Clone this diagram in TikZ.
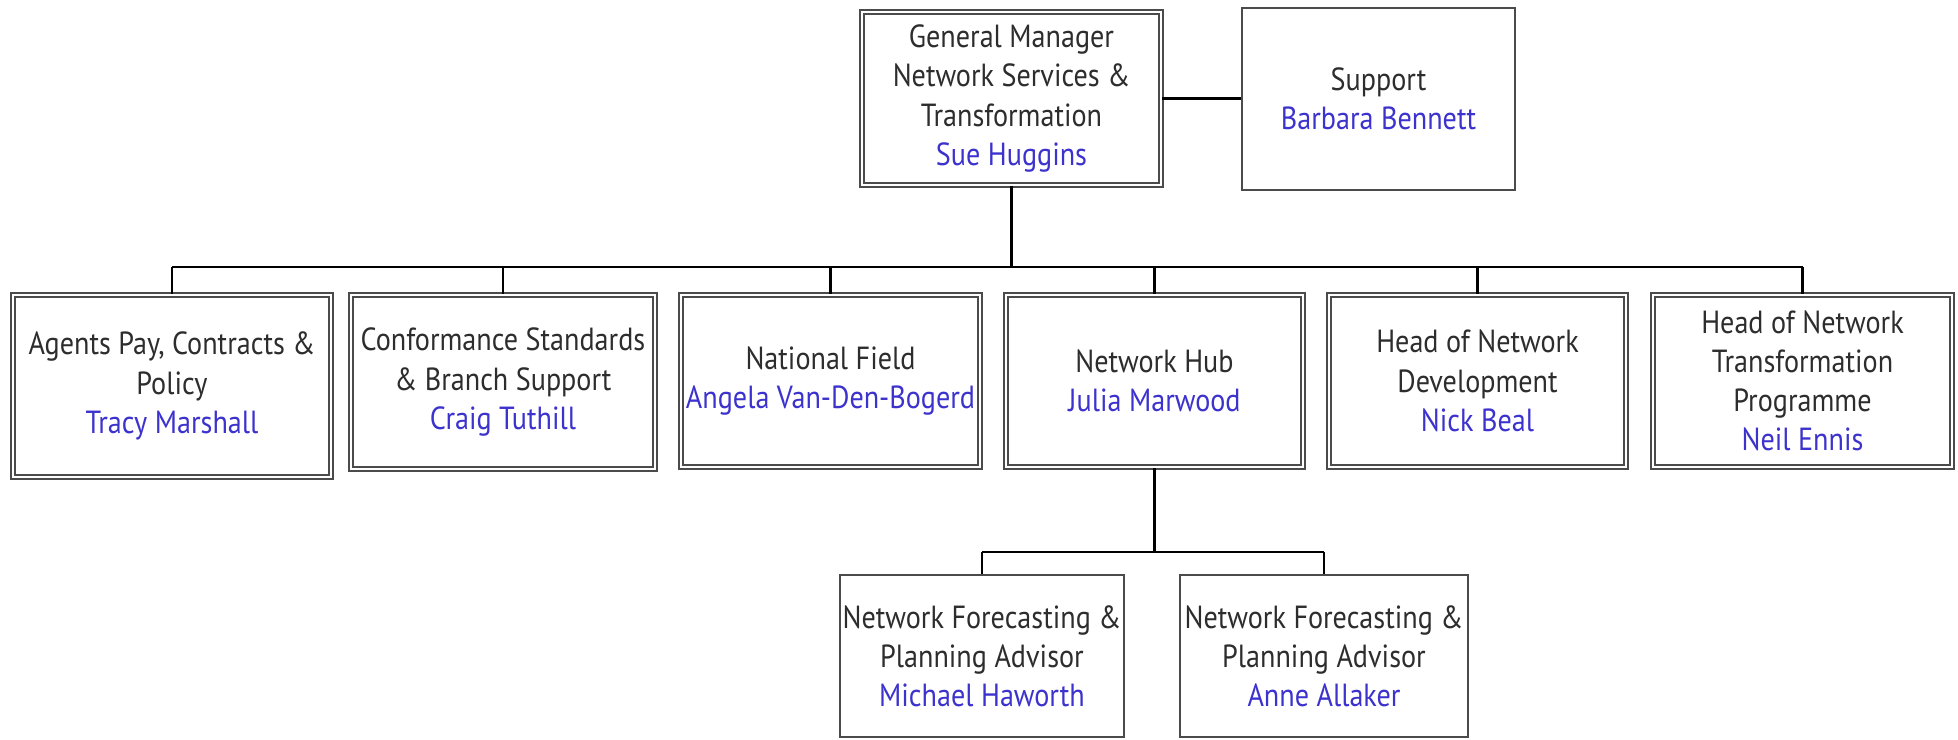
\documentclass[tikz,border=0pt]{standalone}
\usepackage{fontspec}
\setmainfont{PT Sans}[FakeStretch=0.88]
\definecolor{txt}{RGB}{45,45,45}
\definecolor{nm}{RGB}{60,50,205}
\definecolor{frame}{RGB}{75,75,75}
\begin{document}
\begin{tikzpicture}[x=0.5pt,y=-0.5pt,
  every node/.style={font=\fontsize{16}{19.6}\selectfont, text=txt, align=center, inner sep=0pt},
  dbox/.style={draw=frame, line width=0.9pt, double=white, double distance=1.4pt, fill=white},
  sbox/.style={draw=frame, line width=0.8pt, fill=white},
  conn/.style={draw=black, line width=1.4pt}]
\useasboundingbox (0,0) rectangle (1958,739);
\fill[white] (0,0) rectangle (1958,739);
\newcommand{\nmtxt}[1]{\textcolor{nm}{#1}}

\node[dbox, minimum width=149.5pt, minimum height=86.5pt] (gm) at (1011.5,98.5)
  {General Manager\\Network Services \&\\Transformation\\\nmtxt{Sue Huggins}};
\node[sbox, minimum width=136.5pt, minimum height=91pt] (sup) at (1378.5,99)
  {Support\\\nmtxt{Barbara Bennett}};

\node[dbox, minimum width=159pt, minimum height=91pt] (b1) at (172,386)
  {Agents Pay, Contracts \&\\Policy\\\nmtxt{Tracy Marshall}};
\node[dbox, minimum width=152pt, minimum height=87pt] (b2) at (503,382)
  {Conformance Standards\\\& Branch Support\\\nmtxt{Craig Tuthill}};
\node[dbox, minimum width=149.5pt, minimum height=86pt] (b3) at (830.5,381)
  {National Field\\\nmtxt{Angela Van-Den-Bogerd}};
\node[dbox, minimum width=148.5pt, minimum height=86pt] (b4) at (1154.5,381)
  {Network Hub\\\nmtxt{Julia Marwood}};
\node[dbox, minimum width=148.5pt, minimum height=86pt] (b5) at (1477.5,381)
  {Head of Network\\Development\\\nmtxt{Nick Beal}};
\node[dbox, minimum width=149.5pt, minimum height=86pt] (b6) at (1802.5,381)
  {Head of Network\\Transformation\\Programme\\\nmtxt{Neil Ennis}};

\node[sbox, minimum width=142pt, minimum height=81pt] (c1) at (982,656)
  {Network Forecasting \&\\Planning Advisor\\\nmtxt{Michael Haworth}};
\node[sbox, minimum width=144pt, minimum height=81pt] (c2) at (1324,656)
  {Network Forecasting \&\\Planning Advisor\\\nmtxt{Anne Allaker}};

\coordinate (bus) at (0,267);
\coordinate (cbus) at (0,552);

\draw[conn] (gm.east) -- (gm.east -| sup.west);
\draw[conn] (gm.south) -- (gm.south |- bus);
\draw[conn] (b1.north |- bus) -- (b6.north |- bus);
\foreach \b in {b1,b2,b3,b4,b5,b6}
  \draw[conn] (\b.north |- bus) -- (\b.north);
\draw[conn] (b4.south) -- (b4.south |- cbus);
\draw[conn] (c1.north |- cbus) -- (c2.north |- cbus);
\draw[conn] (c1.north |- cbus) -- (c1.north);
\draw[conn] (c2.north |- cbus) -- (c2.north);
\end{tikzpicture}
\end{document}
